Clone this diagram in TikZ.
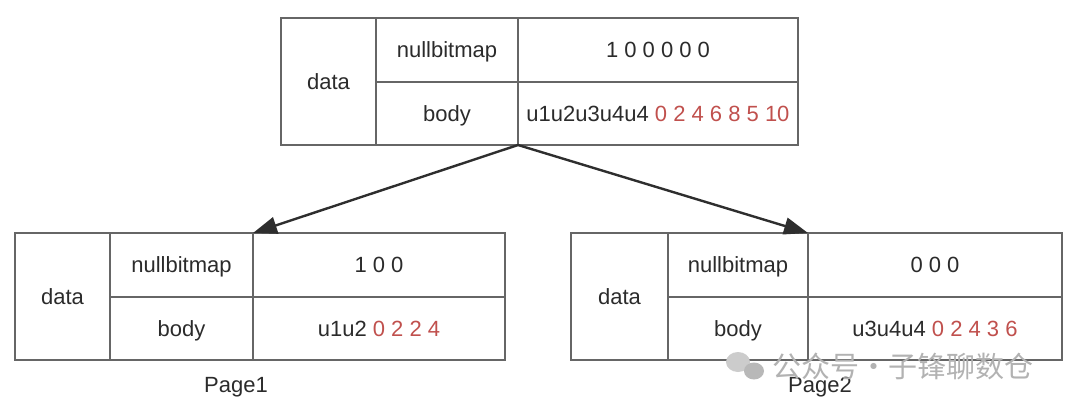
\documentclass[tikz,border=0pt]{standalone}
\usepackage{fontspec}
\setmainfont{Liberation Sans}
\newfontfamily\cjkfont{Noto Sans CJK SC}
\usetikzlibrary{arrows.meta}
\definecolor{linegray}{HTML}{666666}
\definecolor{txt}{HTML}{2B2B2B}
\definecolor{redtxt}{HTML}{C0504D}
\definecolor{arrowc}{HTML}{2E2E2E}
\tikzset{
  cell/.style={draw=linegray, line width=1.4pt, rectangle, inner sep=0pt, outer sep=0pt,
    text=txt, font=\fontsize{22}{26}\selectfont, text height=15.8pt, text depth=0pt},
  conn/.style={draw=arrowc, line width=2.4pt, -{Triangle[length=24pt,width=17pt]}},
  lbl/.style={text=txt, font=\fontsize{22}{26}\selectfont, inner sep=0pt},
  wm/.style={text=black!30, font=\cjkfont\fontsize{29}{32}\selectfont, inner sep=0pt}
}
\newcommand{\rd}[1]{\textcolor{redtxt}{#1}}
\begin{document}
\begin{tikzpicture}[x=1pt,y=-1pt]
\useasboundingbox (0,0) rectangle (1080,407);
% top table
\node[cell, minimum width=95pt, minimum height=127pt] (tdata) at (328.5,81.5) {data};
\node[cell, minimum width=142pt, minimum height=64pt] (tnb) at (447,50) {nullbitmap};
\node[cell, minimum width=142pt, minimum height=63pt] (tbody) at (447,113.5) {body};
\node[cell, minimum width=280pt, minimum height=64pt] (tval1) at (658,50) {1 0 0 0 0 0};
\node[cell, minimum width=280pt, minimum height=63pt] (tval2) at (658,113.5) {u1u2u3u4u4 \rd{0 2 4 6 8 5 10}};
% left table
\node[cell, minimum width=95pt, minimum height=127pt] (ldata) at (62.5,296.5) {data};
\node[cell, minimum width=143pt, minimum height=64pt] (lnb) at (181.5,265) {nullbitmap};
\node[cell, minimum width=143pt, minimum height=63pt] (lbody) at (181.5,328.5) {body};
\node[cell, minimum width=252pt, minimum height=64pt] (lval1) at (379,265) {1 0 0};
\node[cell, minimum width=252pt, minimum height=63pt] (lval2) at (379,328.5) {u1u2 \rd{0 2 2 4}};
% right table
\node[cell, minimum width=97pt, minimum height=127pt] (rdata) at (619.5,296.5) {data};
\node[cell, minimum width=140pt, minimum height=64pt] (rnb) at (738,265) {nullbitmap};
\node[cell, minimum width=140pt, minimum height=63pt] (rbody) at (738,328.5) {body};
\node[cell, minimum width=254pt, minimum height=64pt] (rval1) at (935,265) {0 0 0};
\node[cell, minimum width=254pt, minimum height=63pt] (rval2) at (935,328.5) {u3u4u4 \rd{0 2 4 3 6}};
% labels
\node[lbl] (p1) at (236,387) {Page1};
\node[lbl] (p2) at (820,387) {Page2};
% watermark
\fill[black!20] (738,362) ellipse (12pt and 10pt);
\fill[black!28] (754,371) ellipse (10pt and 8.5pt);
\node[wm, anchor=west] (wmark) at (772,366) {公众号·子锋聊数仓};
% arrows
\draw[conn] (tval2.south west) -- (lval1.north west);
\draw[conn] (tval2.south west) -- (rnb.north east);
\end{tikzpicture}
\end{document}
